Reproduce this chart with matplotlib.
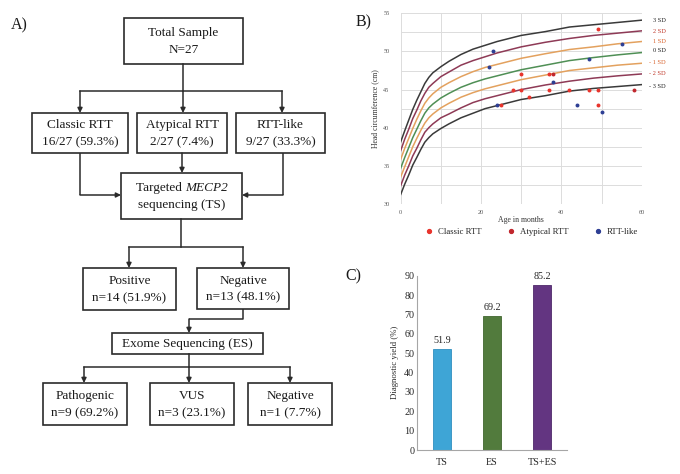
import matplotlib
matplotlib.use("Agg")
import matplotlib.pyplot as plt
from matplotlib.patches import Rectangle
from matplotlib.lines import Line2D

plt.rcParams['font.family'] = ['Liberation Serif', 'DejaVu Serif']

# ---------------- data ----------------
# Panel B: head circumference reference curves (cm) by age (months)
ages = [0, 1, 2, 3, 4, 5, 6, 7, 8, 10, 12, 15, 18, 21, 24, 30, 36, 42, 48, 54, 60]
sd_p3 = [38.15, 39.6, 41.0, 42.4, 43.6, 44.7, 45.8, 46.6, 47.2, 48.0, 48.7, 49.6, 50.3, 50.8, 51.3, 52.1, 52.6, 53.2, 53.5, 53.8, 54.1]
sd_p2 = [37.0, 38.5, 39.8, 41.2, 42.3, 43.5, 44.5, 45.3, 45.8, 46.7, 47.3, 48.2, 48.8, 49.3, 49.8, 50.6, 51.2, 51.7, 52.1, 52.4, 52.7]
sd_p1 = [35.85, 37.3, 38.6, 39.9, 41.1, 42.2, 43.2, 43.9, 44.45, 45.3, 45.9, 46.7, 47.35, 47.9, 48.3, 49.1, 49.7, 50.25, 50.6, 51.0, 51.3]
sd_0 = [34.7, 36.1, 37.4, 38.7, 39.8, 40.9, 41.9, 42.6, 43.1, 43.9, 44.5, 45.3, 45.9, 46.4, 46.8, 47.6, 48.2, 48.8, 49.2, 49.55, 49.85]
sd_m1 = [33.55, 34.9, 36.2, 37.5, 38.6, 39.65, 40.6, 41.3, 41.8, 42.6, 43.2, 44.0, 44.6, 45.1, 45.5, 46.3, 46.9, 47.5, 47.85, 48.2, 48.45]
sd_m2 = [32.4, 33.8, 35.0, 36.3, 37.3, 38.4, 39.4, 40.0, 40.5, 41.3, 41.8, 42.6, 43.3, 43.8, 44.2, 45.0, 45.6, 46.1, 46.5, 46.8, 47.05]
sd_m3 = [31.25, 32.6, 33.8, 35.1, 36.1, 37.15, 38.1, 38.7, 39.2, 39.9, 40.5, 41.3, 41.9, 42.5, 42.9, 43.7, 44.2, 44.8, 45.15, 45.4, 45.65]
sd_labels = ["3 SD", "2 SD", "1 SD", "0 SD", "- 1 SD", "- 2 SD", "- 3 SD"]

classic_age = [25, 28, 30, 30, 32, 37, 37, 42, 47, 49, 49, 49]
classic_hc = [43, 45, 47, 45, 44, 47, 45, 45, 45, 53, 45, 43]
atypical_age = [38, 58]
atypical_hc = [47, 45]
rttlike_age = [22, 23, 24, 38, 44, 47, 50, 55]
rttlike_hc = [48, 50, 43, 46, 43, 49, 42, 51]

# Panel C: diagnostic yield
yield_cats = ["TS", "ES", "TS+ES"]
yield_vals = [51.9, 69.2, 85.2]

# Panel A: flowchart texts
txt_total = "Total Sample\nN=27"
txt_groups = ["Classic RTT\n16/27 (59.3%)", "Atypical RTT\n2/27 (7.4%)", "RTT-like\n9/27 (33.3%)"]
txt_ts = ("Targeted ", "MECP2", "sequencing (TS)")
txt_ts_res = ["Positive\nn=14 (51.9%)", "Negative\nn=13 (48.1%)"]
txt_es = "Exome Sequencing (ES)"
txt_es_res = ["Pathogenic\nn=9 (69.2%)", "VUS\nn=3 (23.1%)", "Negative\nn=1 (7.7%)"]

# ---------------- figure ----------------
W, H = 680, 474
fig = plt.figure(figsize=(W / 100, H / 100), dpi=100)
fig.patch.set_facecolor('white')

# ---- Panel A: flowchart (pixel coordinates) ----
axA = fig.add_axes([0, 0, 1, 1])
axA.set_xlim(0, W)
axA.set_ylim(H, 0)
axA.axis('off')

EC = '#2b2b2b'
FS = 9.5

def box(x0, x1, y0, y1, text=None):
    axA.add_patch(Rectangle((x0, y0), x1 - x0, y1 - y0, fill=False, ec=EC, lw=1.2))
    if text is not None:
        axA.text((x0 + x1) / 2, (y0 + y1) / 2 + 0.5, text, ha='center', va='center',
                 fontsize=FS, linespacing=1.55, color='#1a1a1a')

def path(pts):
    xs = [p[0] for p in pts]
    ys = [p[1] for p in pts]
    axA.plot(xs[:-1], ys[:-1], color=EC, lw=1.1, solid_capstyle='butt')
    axA.annotate('', xy=pts[-1], xytext=pts[-2],
                 arrowprops=dict(arrowstyle='-|>', color=EC, lw=1.1,
                                 mutation_scale=7, shrinkA=0, shrinkB=0))

def line(pts):
    axA.plot([p[0] for p in pts], [p[1] for p in pts], color=EC, lw=1.1)

box(124, 243, 18, 64, txt_total)
line([(183, 64), (183, 91)])
line([(80, 91), (282, 91)])
for xx in (80, 183, 282):
    path([(xx, 91), (xx, 113)])
box(32, 128, 113, 153, txt_groups[0])
box(137, 227, 113, 153, txt_groups[1])
box(236, 325, 113, 153, txt_groups[2])
box(121, 242, 173, 219)

# "Targeted MECP2" with italic gene name, centred as one line
renderer = fig.canvas.get_renderer()
t1 = axA.text(0, 188, txt_ts[0], ha='left', va='center', fontsize=FS, color='#1a1a1a')
t2 = axA.text(0, 188, txt_ts[1], ha='left', va='center', fontsize=FS, color='#1a1a1a', style='italic')
w1 = t1.get_window_extent(renderer).width
w2 = t2.get_window_extent(renderer).width
start = 181.5 - (w1 + w2) / 2
t1.set_x(start)
t2.set_x(start + w1)
axA.text(181.5, 205, txt_ts[2], ha='center', va='center', fontsize=FS, color='#1a1a1a')
path([(80, 153), (80, 195), (121, 195)])
path([(283, 153), (283, 195), (242, 195)])
path([(182, 153), (182, 173)])

line([(181, 219), (181, 247)])
line([(129, 247), (243, 247)])
path([(129, 247), (129, 268)])
path([(243, 247), (243, 268)])
box(83, 176, 268, 310, txt_ts_res[0])
box(197, 289, 268, 309, txt_ts_res[1])
path([(243, 309), (243, 319), (189, 319), (189, 333)])
box(112, 263, 333, 354, txt_es)
line([(189, 354), (189, 367)])
line([(84, 367), (290, 367)])
for xx in (84, 189, 290):
    path([(xx, 367), (xx, 383)])
box(43, 127, 383, 425, txt_es_res[0])
box(150, 234, 383, 425, txt_es_res[1])
box(248, 332, 383, 425, txt_es_res[2])

axA.text(11, 25, "A)", fontsize=11.5, ha='left', va='center', color='#1a1a1a')
axA.text(356, 22, "B)", fontsize=11.5, ha='left', va='center', color='#1a1a1a')
axA.text(345, 276, "C)", fontsize=11.5, ha='left', va='center', color='#1a1a1a')

# ---- Panel B: head circumference chart ----
bx0, bx1, by0, by1 = 400.7, 641.7, 13.3, 204.0
axB = fig.add_axes([bx0 / W, 1 - by1 / H, (bx1 - bx0) / W, (by1 - by0) / H])
axB.set_xlim(0, 60)
axB.set_ylim(30, 55)
for s in axB.spines.values():
    s.set_visible(False)
axB.set_xticks([0, 20, 40, 60])
axB.set_xticks([10, 30, 50], minor=True)
axB.set_yticks([30, 35, 40, 45, 50, 55])
axB.set_yticks([32.5, 37.5, 42.5, 47.5, 52.5], minor=True)
axB.grid(True, which='both', color='#dcdcdc', lw=0.7)
axB.tick_params(which='both', length=0, labelsize=4.5, labelcolor='#555555')
axB.tick_params(axis='y', pad=8)
axB.tick_params(axis='x', pad=4)
axB.set_axisbelow(True)

curve_cols = ['#3a3a3a', '#8e3a56', '#e3a15e', '#4f8f55', '#e3a15e', '#8e3a56', '#3a3a3a']
for curve, c in zip([sd_p3, sd_p2, sd_p1, sd_0, sd_m1, sd_m2, sd_m3], curve_cols):
    axB.plot(ages, curve, color=c, lw=1.1, solid_joinstyle='round')

c_classic = '#e8342c'
c_atyp = '#c1272d'
c_like = '#2e3f94'
axB.scatter(classic_age, classic_hc, s=8, color=c_classic, zorder=3, lw=0)
axB.scatter(atypical_age, atypical_hc, s=8, color=c_atyp, zorder=3, lw=0)
axB.scatter(rttlike_age, rttlike_hc, s=8, color=c_like, zorder=3, lw=0)

axB.set_xlabel("Age in months", fontsize=5.6, color='#333333', labelpad=1)
axB.set_ylabel("Head circumference (cm)", fontsize=5.6, color='#333333', labelpad=3)

lab_cols = ['#222222', '#c0392b', '#d8632e', '#222222', '#d8632e', '#c0392b', '#222222']
lab_y = [20, 31, 41, 50, 62, 73, 86]
for t, c, yy in zip(sd_labels, lab_cols, lab_y):
    axA.text(666, yy, t, fontsize=4.6, color=c, ha='right', va='center')

handles = [Line2D([], [], marker='o', ls='none', color=c_classic, markersize=2.8),
           Line2D([], [], marker='o', ls='none', color=c_atyp, markersize=2.8),
           Line2D([], [], marker='o', ls='none', color=c_like, markersize=2.8)]
fig.legend(handles, ["Classic RTT", "Atypical RTT", "RTT-like"], loc='center',
           bbox_to_anchor=(532 / W, 1 - 232 / H), ncol=3, frameon=False,
           fontsize=6.3, handlelength=0.8, handletextpad=0.6, columnspacing=3.0,
           labelcolor='#222222')

# ---- Panel C: diagnostic yield bars ----
cx0, cx1, cy0, cy1 = 417, 567, 275.7, 450
axC = fig.add_axes([cx0 / W, 1 - cy1 / H, (cx1 - cx0) / W, (cy1 - cy0) / H])
bar_cols = ['#3ea5d6', '#527b3d', '#633581']
edge_cols = ['#2f8fbf', '#41672f', '#4f2869']
xpos = list(range(len(yield_cats)))
bars = axC.bar(xpos, yield_vals, width=0.37, color=bar_cols, edgecolor=edge_cols, lw=0.6)
axC.set_xlim(-0.5, 2.5)
axC.set_ylim(0, 90)
axC.set_yticks(range(0, 91, 10))
axC.set_xticks(xpos)
axC.set_xticklabels(yield_cats)
for s in ('top', 'right'):
    axC.spines[s].set_visible(False)
for s in ('left', 'bottom'):
    axC.spines[s].set_color('#a6a6a6')
    axC.spines[s].set_linewidth(0.8)
axC.tick_params(length=0, labelsize=7.3, labelcolor='#262626')
axC.tick_params(axis='y', pad=2)
axC.tick_params(axis='x', pad=6)
for xx, v in zip(xpos, yield_vals):
    axC.annotate(f"{v:.1f}", (xx, v), xytext=(0, 3), textcoords='offset points',
                 ha='center', va='bottom', fontsize=7.3, color='#262626')
axC.set_ylabel("Diagnostic yield (%)", fontsize=6.3, color='#262626', labelpad=4)

fig.savefig("out.png", dpi=100, facecolor='white')
